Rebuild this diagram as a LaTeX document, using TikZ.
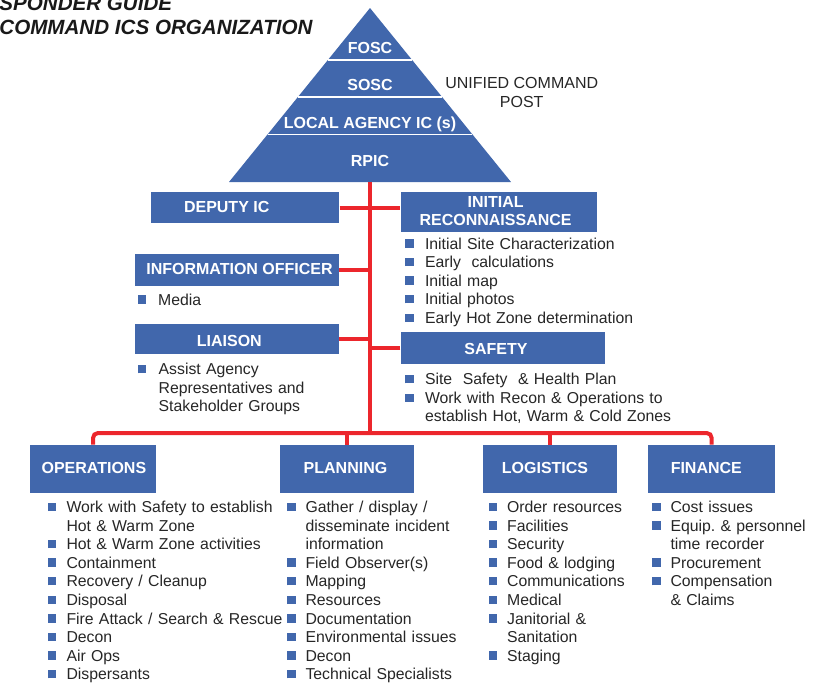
\documentclass[tikz,border=0pt]{standalone}
\usepackage{fontspec}
\setmainfont{Liberation Sans}
\usetikzlibrary{calc}
\definecolor{icsblue}{RGB}{65,103,172}
\definecolor{icsred}{RGB}{236,38,44}
\definecolor{icstext}{RGB}{38,38,38}
\frenchspacing
\newlength\bulw
% one bullet point with a hanging indent
\newcommand\itm[1]{\hangindent=\bulw\hangafter=1\noindent\makebox[\bulw][l]{\raisebox{0.7pt}{\textcolor{icsblue}{\rule{4.2pt}{4.2pt}}}}#1\par}

\begin{document}
\begin{tikzpicture}[x=0.5pt,y=-0.5pt,
	box/.style={fill=icsblue,inner sep=0pt},
	head/.style={text=white,inner sep=0pt,font=\bfseries\fontsize{8}{8.85}\selectfont},
	list/.style={anchor=base west,inner sep=0pt,text width=150pt,align=left,text=icstext,
		font=\fontsize{7.9}{9.3}\selectfont,execute at begin node={\setlength{\bulw}{#1}}},
	list/.default=9.2pt,
	link/.style={draw=icsred,line width=2pt}
	]
	\useasboundingbox (0,0) rectangle (829,682);
	\clip (0,0) rectangle (829,682);
	
	\node[anchor=south west,align=left,inner sep=0pt,text=black!90,font=\bfseries\itshape\fontsize{10.3}{12}\selectfont] (title) at (-1,35.5) {SPONDER GUIDE\\COMMAND ICS ORGANIZATION};
	
	% unified command pyramid
	\coordinate (apex) at (370,8);
	\coordinate (bl) at (229,182);
	\coordinate (br) at (511,182);
	\coordinate (base) at (369.5,182);
	\coordinate (bar) at (369.5,433);
	\fill[icsblue] (apex) -- (br) -- (bl) -- cycle;
	\foreach \t in {0.299,0.513,0.726}
		\draw[white,line width=0.8pt] ($(apex)!\t!(bl)$) -- ($(apex)!\t!(br)$);
	\node[head,anchor=base] (fosc) at (370,53.4) {FOSC};
	\node[head,anchor=base] (sosc) at (370,90) {SOSC};
	\node[head,anchor=base] (local) at (370,128.4) {LOCAL AGENCY IC (s)};
	\node[head,anchor=base] (rpic) at (370,166.7) {RPIC};
	\node[anchor=north,align=center,inner sep=0pt,text=icstext,font=\fontsize{8}{9.5}\selectfont] (ucp) at (521.7,77.3) {UNIFIED COMMAND\\POST};
	
	% command staff
	\node[box,minimum width=94.2pt,minimum height=15.7pt] (deputy) at (244.9,207.7) {};
	\node[head] (deputy-t) at (226.7,206.5) {DEPUTY IC};
	\node[box,minimum width=98pt,minimum height=19.9pt] (recon) at (498.7,211.9) {};
	\node[head,align=center] (recon-t) at (495.6,210.9) {INITIAL\\RECONNAISSANCE};
	\node[box,minimum width=102pt,minimum height=16pt] (info) at (237,270) {};
	\node[head] (info-t) at (239.5,269.2) {INFORMATION OFFICER};
	\node[box,minimum width=102pt,minimum height=15pt] (liaison) at (237,339.3) {};
	\node[head] (liaison-t) at (229.3,341.2) {LIAISON};
	\node[box,minimum width=102.2pt,minimum height=15.9pt] (safety) at (502.9,348.2) {};
	\node[head] (safety-t) at (496,349.2) {SAFETY};
	
	% general staff
	\node[box,minimum width=63pt,minimum height=23.9pt] (ops) at (93,468.9) {};
	\node[head] (ops-t) at (93.9,468.3) {OPERATIONS};
	\node[box,minimum width=67pt,minimum height=23.9pt] (plan) at (347,468.9) {};
	\node[head] (plan-t) at (345.5,468.3) {PLANNING};
	\node[box,minimum width=67.2pt,minimum height=23.9pt] (log) at (550.2,468.9) {};
	\node[head] (log-t) at (545,468.3) {LOGISTICS};
	\node[box,minimum width=63.4pt,minimum height=23.9pt] (fin) at (711.7,468.9) {};
	\node[head] (fin-t) at (706.3,468.3) {FINANCE};
	
	% red lines
	\draw[link] (base) -- (bar);
	\draw[link] (deputy.east) -- (deputy.east -| recon.west);
	\draw[link] (info.east) -- (info.east -| base);
	\draw[link] (liaison.east) -- (liaison.east -| base);
	\draw[link] (safety.west) -- (safety.west -| base);
	\draw[link,rounded corners=2.5pt] (ops.north) |- (bar) -| (fin.north);
	\draw[link] (plan.north) -- (plan.north |- bar);
	\draw[link] (log.north) -- (log.north |- bar);
	
	% duties
	\node[list=9.8pt] (recon-l) at (405,249) {\itm{Initial Site Characterization}\itm{Early~ calculations}\itm{Initial map}\itm{Initial photos}\itm{Early Hot Zone determination}};
	\node[list=10.2pt] (info-l) at (137.3,305) {\itm{Media}};
	\node[list=10.5pt] (liaison-l) at (137.3,374.7) {\itm{Assist Agency\newline Representatives and\newline Stakeholder Groups}};
	\node[list=9.8pt] (safety-l) at (405,384.7) {\itm{Site~ Safety~ \& Health Plan}\itm{Work with Recon \& Operations to\newline establish Hot, Warm \& Cold Zones}};
	
	\node[list] (ops-l) at (47.7,512.4) {\itm{Work with Safety to establish\newline Hot \& Warm Zone}\itm{Hot \& Warm Zone activities}\itm{Containment}\itm{Recovery / Cleanup}\itm{Disposal}\itm{Fire Attack / Search \& Rescue}\itm{Decon}\itm{Air Ops}\itm{Dispersants}};
	\node[list] (plan-l) at (286.7,512.4) {\itm{Gather / display /\newline disseminate incident\newline information}\itm{Field Observer(s)}\itm{Mapping}\itm{Resources}\itm{Documentation}\itm{Environmental issues}\itm{Decon}\itm{Technical Specialists}};
	\node[list] (log-l) at (488.3,512.4) {\itm{Order resources}\itm{Facilities}\itm{Security}\itm{Food \& lodging}\itm{Communications}\itm{Medical}\itm{Janitorial \&\newline Sanitation}\itm{Staging}};
	\node[list] (fin-l) at (651.7,512.4) {\itm{Cost issues}\itm{Equip. \& personnel\newline time recorder}\itm{Procurement}\itm{Compensation\newline \& Claims}};
\end{tikzpicture}
\end{document}
